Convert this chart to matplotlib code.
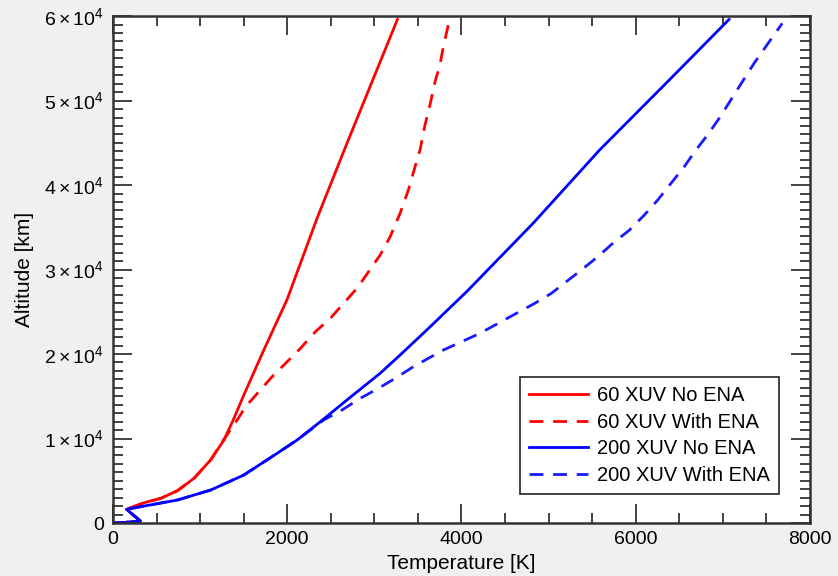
import matplotlib
matplotlib.use("Agg")
import matplotlib.pyplot as plt
from matplotlib.ticker import MultipleLocator, FuncFormatter

plt.rcParams["font.family"] = ["Liberation Sans", "DejaVu Sans"]
plt.rcParams["mathtext.fontset"] = "custom"
plt.rcParams["mathtext.rm"] = "Liberation Sans"
plt.rcParams["mathtext.it"] = "Liberation Sans:italic"

# Temperature profiles [K] vs altitude [km]
alt_60_no = [0, 80, 250, 1620, 2400, 2920, 3820, 5290, 7460, 9820, 12190,
             15150, 20470, 26470, 36060, 44930, 59610]
temp_60_no = [15, 150, 313, 156, 358, 549, 740, 930, 1121, 1274, 1380,
              1502, 1731, 1999, 2342, 2685, 3265]

alt_60_ena = [0, 80, 250, 1620, 2400, 2920, 3820, 5290, 7460, 9620, 12190,
              13770, 15540, 17320, 19090, 20670, 22640, 24220, 26000, 27770,
              29740, 31720, 33880, 36650, 39410, 42170, 44140, 47100, 49470,
              52230, 54200, 56370, 58930]
temp_60_ena = [15, 150, 313, 156, 358, 549, 740, 930, 1121, 1255, 1426,
               1522, 1674, 1827, 1999, 2151, 2323, 2494, 2647, 2800,
               2933, 3066, 3181, 3295, 3390, 3467, 3524, 3581, 3638,
               3696, 3753, 3791, 3848]

alt_200_no = [0, 80, 250, 1620, 2010, 2720, 3900, 5680, 8250, 9820, 11990,
              14560, 17720, 19880, 22840, 27370, 35470, 44140, 52040, 59610]
temp_200_no = [15, 150, 313, 156, 358, 740, 1121, 1502, 1884, 2113, 2380,
               2685, 3066, 3295, 3601, 4058, 4821, 5584, 6346, 7071]

alt_200_ena = [0, 80, 250, 1620, 2010, 2720, 3900, 5680, 8250, 9820, 12190,
               13370, 14760, 15940, 17120, 18500, 19490, 20470, 21460, 22450,
               23630, 24820, 26000, 27180, 28560, 29940, 31520, 33100, 34670,
               36450, 38220, 40200, 42170, 44140, 45920, 47890, 50060, 52230,
               54400, 56370, 59140]
temp_200_ena = [15, 150, 313, 156, 358, 740, 1121, 1502, 1884, 2113, 2418,
                2628, 2838, 3047, 3238, 3448, 3619, 3791, 4001, 4211,
                4420, 4630, 4840, 5031, 5202, 5374, 5564, 5736, 5927,
                6098, 6251, 6404, 6556, 6690, 6823, 6957, 7090, 7223,
                7357, 7491, 7681]

labels = ["60 XUV No ENA", "60 XUV With ENA", "200 XUV No ENA", "200 XUV With ENA"]

fig = plt.figure(figsize=(8.38, 5.76), dpi=100, facecolor="#f0f0f0")
ax = fig.add_axes([0.1348, 0.092, 0.8318, 0.880])
ax.set_facecolor("white")

lw = 2.0
dash = (0, (5, 3.5))
h1, = ax.plot(temp_60_no, alt_60_no, color="#ff0000", lw=lw)
h2, = ax.plot(temp_60_ena, alt_60_ena, color="#ff0000", lw=lw, linestyle=dash)
h4, = ax.plot(temp_200_ena, alt_200_ena, color="#1a1aff", lw=lw, linestyle=dash)
h3, = ax.plot(temp_200_no, alt_200_no, color="#0000ff", lw=lw)

ax.set_xlim(0, 8000)
ax.set_ylim(0, 60000)

ax.xaxis.set_major_locator(MultipleLocator(2000))
ax.xaxis.set_minor_locator(MultipleLocator(500))
ax.yaxis.set_major_locator(MultipleLocator(10000))
ax.yaxis.set_minor_locator(MultipleLocator(1000))


def fmt_alt(v, pos):
    k = int(round(v / 10000))
    if k == 0:
        return "0"
    return r"$%d\times10^{4}$" % k


ax.yaxis.set_major_formatter(FuncFormatter(fmt_alt))

ax.tick_params(which="both", direction="in", top=True, right=True,
               color="#222222", labelsize=14, labelcolor="black")
ax.tick_params(which="major", length=14, width=1.2)
ax.tick_params(which="minor", length=7, width=1.2)
ax.tick_params(axis="x", pad=6)
ax.tick_params(axis="y", pad=6.5)

for sp in ax.spines.values():
    sp.set_linewidth(1.8)
    sp.set_color("#333333")

ax.set_xlabel("Temperature [K]", fontsize=15, labelpad=4)
ax.set_ylabel("Altitude [km]", fontsize=15, labelpad=7)

leg = ax.legend([h1, h2, h3, h4], labels,
                loc="lower right", bbox_to_anchor=(0.955, 0.057),
                borderaxespad=0, fontsize=14.5, handlelength=2.9,
                fancybox=False, framealpha=1, edgecolor="#222222",
                labelspacing=0.38, borderpad=0.45, handletextpad=0.45)
leg.get_frame().set_linewidth(1.2)

fig.savefig("out.png", dpi=100, facecolor=fig.get_facecolor())
